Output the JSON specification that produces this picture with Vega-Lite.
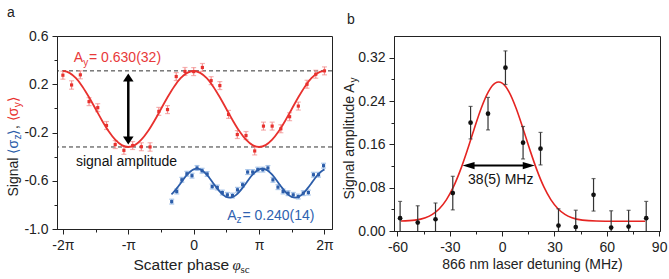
{
  "$schema": "https://vega.github.io/schema/vega-lite/v6.json",
  "padding": {"left": 5, "top": 5, "right": 5, "bottom": 5},
  "spacing": 62,
  "bounds": "flush",
  "config": {
    "font": "Liberation Sans",
    "view": {"stroke": "#222", "strokeWidth": 1},
    "axis": {"labelFontSize": 14, "titleFontSize": 14, "labelColor": "#222", "titleColor": "#222", "domainColor": "#222", "tickColor": "#222", "grid": false, "titleFontWeight": "normal", "labelFlush": false, "labelOverlap": false, "labelPadding": 4, "tickSize": 5},
    "title": {"fontSize": 14, "fontWeight": "normal", "font": "Liberation Sans", "color": "#222"}
  },
  "datasets": {
    "red": [
      {"x": -2.000, "y": 0.275, "e": 0.033}, {"x": -1.867, "y": 0.194, "e": 0.035}, {"x": -1.733, "y": 0.278, "e": 0.033},
      {"x": -1.600, "y": 0.056, "e": 0.033}, {"x": -1.467, "y": 0.006, "e": 0.033}, {"x": -1.333, "y": -0.142, "e": 0.033},
      {"x": -1.200, "y": -0.300, "e": 0.033}, {"x": -1.067, "y": -0.348, "e": 0.033}, {"x": -0.933, "y": -0.308, "e": 0.033},
      {"x": -0.800, "y": -0.318, "e": 0.033}, {"x": -0.667, "y": -0.320, "e": 0.035}, {"x": -0.533, "y": -0.025, "e": 0.033},
      {"x": -0.400, "y": -0.010, "e": 0.033}, {"x": -0.267, "y": 0.264, "e": 0.033}, {"x": -0.133, "y": 0.306, "e": 0.033},
      {"x": 0.000, "y": 0.305, "e": 0.033}, {"x": 0.133, "y": 0.339, "e": 0.033}, {"x": 0.267, "y": 0.230, "e": 0.033},
      {"x": 0.400, "y": 0.189, "e": 0.033}, {"x": 0.533, "y": -0.050, "e": 0.033}, {"x": 0.667, "y": -0.217, "e": 0.033},
      {"x": 0.800, "y": -0.225, "e": 0.033}, {"x": 0.933, "y": -0.353, "e": 0.033}, {"x": 1.067, "y": -0.147, "e": 0.033},
      {"x": 1.200, "y": -0.147, "e": 0.033}, {"x": 1.333, "y": -0.169, "e": 0.033}, {"x": 1.467, "y": -0.069, "e": 0.033},
      {"x": 1.600, "y": 0.019, "e": 0.033}, {"x": 1.733, "y": 0.200, "e": 0.033}, {"x": 1.867, "y": 0.283, "e": 0.033},
      {"x": 2.000, "y": 0.311, "e": 0.033}
    ],
    "blue": [
      {"x": -0.336, "y": -0.773, "e": 0.02}, {"x": -0.259, "y": -0.689, "e": 0.02}, {"x": -0.181, "y": -0.592, "e": 0.02},
      {"x": -0.104, "y": -0.542, "e": 0.02}, {"x": -0.026, "y": -0.558, "e": 0.02}, {"x": 0.051, "y": -0.494, "e": 0.02},
      {"x": 0.128, "y": -0.517, "e": 0.02}, {"x": 0.206, "y": -0.544, "e": 0.02}, {"x": 0.283, "y": -0.648, "e": 0.02},
      {"x": 0.361, "y": -0.656, "e": 0.02}, {"x": 0.438, "y": -0.698, "e": 0.02}, {"x": 0.515, "y": -0.717, "e": 0.02},
      {"x": 0.593, "y": -0.723, "e": 0.02}, {"x": 0.670, "y": -0.675, "e": 0.02}, {"x": 0.748, "y": -0.633, "e": 0.02},
      {"x": 0.825, "y": -0.528, "e": 0.02}, {"x": 0.902, "y": -0.528, "e": 0.02}, {"x": 0.980, "y": -0.508, "e": 0.02},
      {"x": 1.057, "y": -0.508, "e": 0.02}, {"x": 1.135, "y": -0.494, "e": 0.02}, {"x": 1.212, "y": -0.592, "e": 0.02},
      {"x": 1.289, "y": -0.653, "e": 0.02}, {"x": 1.367, "y": -0.689, "e": 0.02}, {"x": 1.444, "y": -0.703, "e": 0.02},
      {"x": 1.522, "y": -0.717, "e": 0.02}, {"x": 1.599, "y": -0.731, "e": 0.02}, {"x": 1.676, "y": -0.703, "e": 0.02},
      {"x": 1.754, "y": -0.698, "e": 0.02}, {"x": 1.831, "y": -0.550, "e": 0.02}, {"x": 1.909, "y": -0.550, "e": 0.02},
      {"x": 1.986, "y": -0.475, "e": 0.02}
    ],
    "redfit": [
      {"x": -2.0, "y": 0.310}, {"x": -1.9, "y": 0.2946}, {"x": -1.8, "y": 0.2498}, {"x": -1.7, "y": 0.1802}, {"x": -1.6, "y": 0.0923},
      {"x": -1.5, "y": -0.005}, {"x": -1.4, "y": -0.1023}, {"x": -1.3, "y": -0.1902}, {"x": -1.2, "y": -0.2598}, {"x": -1.1, "y": -0.3046},
      {"x": -1.0, "y": -0.320}, {"x": -0.9, "y": -0.3046}, {"x": -0.8, "y": -0.2598}, {"x": -0.7, "y": -0.1902}, {"x": -0.6, "y": -0.1023},
      {"x": -0.5, "y": -0.005}, {"x": -0.4, "y": 0.0923}, {"x": -0.3, "y": 0.1802}, {"x": -0.2, "y": 0.2498}, {"x": -0.1, "y": 0.2946},
      {"x": 0.0, "y": 0.310}, {"x": 0.1, "y": 0.2946}, {"x": 0.2, "y": 0.2498}, {"x": 0.3, "y": 0.1802}, {"x": 0.4, "y": 0.0923},
      {"x": 0.5, "y": -0.005}, {"x": 0.6, "y": -0.1023}, {"x": 0.7, "y": -0.1902}, {"x": 0.8, "y": -0.2598}, {"x": 0.9, "y": -0.3046},
      {"x": 1.0, "y": -0.320}, {"x": 1.1, "y": -0.3046}, {"x": 1.2, "y": -0.2598}, {"x": 1.3, "y": -0.1902}, {"x": 1.4, "y": -0.1023},
      {"x": 1.5, "y": -0.005}, {"x": 1.6, "y": 0.0923}, {"x": 1.7, "y": 0.1802}, {"x": 1.8, "y": 0.2498}, {"x": 1.9, "y": 0.2946},
      {"x": 2.0, "y": 0.310}
    ],
    "bluefit": [
      {"x": -0.34, "y": -0.7125}, {"x": -0.30, "y": -0.6905}, {"x": -0.25, "y": -0.6571}, {"x": -0.20, "y": -0.6200}, {"x": -0.15, "y": -0.5829},
      {"x": -0.10, "y": -0.5495}, {"x": -0.05, "y": -0.5229}, {"x": 0.00, "y": -0.5059}, {"x": 0.05, "y": -0.5000}, {"x": 0.10, "y": -0.5059},
      {"x": 0.15, "y": -0.5229}, {"x": 0.20, "y": -0.5495}, {"x": 0.25, "y": -0.5829}, {"x": 0.30, "y": -0.6200}, {"x": 0.35, "y": -0.6571},
      {"x": 0.40, "y": -0.6905}, {"x": 0.45, "y": -0.7171}, {"x": 0.50, "y": -0.7341}, {"x": 0.55, "y": -0.7400}, {"x": 0.60, "y": -0.7341},
      {"x": 0.65, "y": -0.7171}, {"x": 0.70, "y": -0.6905}, {"x": 0.75, "y": -0.6571}, {"x": 0.80, "y": -0.6200}, {"x": 0.85, "y": -0.5829},
      {"x": 0.90, "y": -0.5495}, {"x": 0.95, "y": -0.5229}, {"x": 1.00, "y": -0.5059}, {"x": 1.05, "y": -0.5000}, {"x": 1.10, "y": -0.5059},
      {"x": 1.15, "y": -0.5229}, {"x": 1.20, "y": -0.5495}, {"x": 1.25, "y": -0.5829}, {"x": 1.30, "y": -0.6200}, {"x": 1.35, "y": -0.6571},
      {"x": 1.40, "y": -0.6905}, {"x": 1.45, "y": -0.7171}, {"x": 1.50, "y": -0.7341}, {"x": 1.55, "y": -0.7400}, {"x": 1.60, "y": -0.7341},
      {"x": 1.65, "y": -0.7171}, {"x": 1.70, "y": -0.6905}, {"x": 1.75, "y": -0.6571}, {"x": 1.80, "y": -0.6200}, {"x": 1.85, "y": -0.5829},
      {"x": 1.90, "y": -0.5495}, {"x": 1.95, "y": -0.5229}, {"x": 2.00, "y": -0.5059}
    ],
    "dash": [{"y": 0.311}, {"y": -0.320}],
    "det": [
      {"x": -58.5, "y": 0.0236, "e": 0.031}, {"x": -48.4, "y": 0.0156, "e": 0.031}, {"x": -38.2, "y": 0.0217, "e": 0.030},
      {"x": -28.3, "y": 0.070, "e": 0.031}, {"x": -18.1, "y": 0.200, "e": 0.030}, {"x": -8.1, "y": 0.2166, "e": 0.030},
      {"x": 1.9, "y": 0.3015, "e": 0.031}, {"x": 12.0, "y": 0.163, "e": 0.030}, {"x": 22.0, "y": 0.152, "e": 0.030},
      {"x": 32.3, "y": 0.010, "e": 0.031}, {"x": 42.2, "y": 0.0074, "e": 0.031}, {"x": 52.4, "y": 0.0668, "e": 0.030},
      {"x": 62.5, "y": 0.0063, "e": 0.031}, {"x": 72.5, "y": 0.0082, "e": 0.030}, {"x": 82.6, "y": 0.0236, "e": 0.031}
    ],
    "detfit": [
      {"x": -58, "y": 0.0184}, {"x": -50, "y": 0.0201}, {"x": -44, "y": 0.0245}, {"x": -40, "y": 0.0307}, {"x": -36, "y": 0.0412},
      {"x": -32, "y": 0.0575}, {"x": -28, "y": 0.0809}, {"x": -24, "y": 0.1119}, {"x": -20, "y": 0.1489}, {"x": -16, "y": 0.1889},
      {"x": -12, "y": 0.2267}, {"x": -8, "y": 0.2564}, {"x": -4, "y": 0.2729}, {"x": -2, "y": 0.2750}, {"x": 0, "y": 0.2729},
      {"x": 2, "y": 0.2666}, {"x": 4, "y": 0.2564}, {"x": 8, "y": 0.2267}, {"x": 12, "y": 0.1889}, {"x": 16, "y": 0.1489},
      {"x": 20, "y": 0.1119}, {"x": 24, "y": 0.0809}, {"x": 28, "y": 0.0575}, {"x": 32, "y": 0.0412}, {"x": 36, "y": 0.0307},
      {"x": 40, "y": 0.0245}, {"x": 46, "y": 0.0201}, {"x": 54, "y": 0.0184}, {"x": 64, "y": 0.0180}, {"x": 82, "y": 0.0180}
    ]
  },
  "hconcat": [
    {
      "width": 275,
      "height": 193,
      "title": {"text": "a", "anchor": "start", "frame": "group", "dx": -50, "offset": -2, "baseline": "alphabetic"},
      "resolve": {"axis": {"x": "independent", "y": "independent"}},
      "layer": [
        {
          "data": {"name": "dash"},
          "mark": {"type": "rule", "strokeDash": [4, 3], "color": "#333", "strokeWidth": 1},
          "encoding": {
            "y": {"field": "y", "type": "quantitative", "scale": {"domain": [-1, 0.6]},
              "axis": {"orient": "left", "values": [0.6, 0.2, -0.2, -0.6, -1.0], "labelExpr": "replace(format(datum.value, '.1f'), '−', '-')",
                "title": "Signal", "titleAngle": -90, "titleAlign": "left", "titleBaseline": "alphabetic", "titleX": -40, "titleY": 160}}
          }
        },
        {
          "data": {"name": "red"},
          "mark": {"type": "errorbar", "color": "#f29191", "thickness": 1.2, "ticks": {"size": 5, "color": "#f29191"}},
          "encoding": {
            "x": {"field": "x", "type": "quantitative", "scale": {"domain": [-2.09, 2.115]},
              "axis": {"orient": "bottom", "values": [-2, -1, 0, 1, 2],
                "labelExpr": "datum.value == -2 ? '-2π' : datum.value == -1 ? '-π' : datum.value == 0 ? '0' : datum.value == 1 ? 'π' : '2π'",
                "title": "Scatter phase", "titleFontSize": 15.5, "titleAlign": "left", "titleBaseline": "alphabetic", "titleX": 76, "titleY": 40}},
            "y": {"field": "y", "type": "quantitative", "scale": {"domain": [-1, 0.6]},
              "axis": {"orient": "left", "values": [0.4, 0.0, -0.4, -0.8], "labels": false, "domain": false, "tickSize": 3, "title": null}},
            "yError": {"field": "e"}
          }
        },
        {
          "data": {"name": "red"},
          "mark": {"type": "point", "shape": "square", "filled": true, "size": 10, "color": "#e8312e", "opacity": 1},
          "encoding": {
            "x": {"field": "x", "type": "quantitative", "scale": {"domain": [-2.09, 2.115]},
              "axis": {"orient": "bottom", "values": [-1.5, -0.5, 0.5, 1.5], "labels": false, "domain": false, "tickSize": 3, "title": null}},
            "y": {"field": "y", "type": "quantitative", "scale": {"domain": [-1, 0.6]},
              "axis": {"orient": "left", "labels": false, "ticks": false, "domain": false, "title": "⟨σ", "titleColor": "#2c5da9",
                "titleAngle": -90, "titleAlign": "left", "titleBaseline": "alphabetic", "titleX": -40, "titleY": 117}}
          }
        },
        {
          "data": {"name": "redfit"},
          "mark": {"type": "line", "color": "#e8312e", "strokeWidth": 1.8, "interpolate": "monotone"},
          "encoding": {
            "x": {"field": "x", "type": "quantitative", "scale": {"domain": [-2.09, 2.115]},
              "axis": {"orient": "bottom", "labels": false, "ticks": false, "domain": false, "title": "φ", "titleFont": "Liberation Serif", "titleFontStyle": "italic", "titleFontSize": 15,
                "titleAlign": "left", "titleBaseline": "alphabetic", "titleX": 175, "titleY": 40}},
            "y": {"field": "y", "type": "quantitative", "scale": {"domain": [-1, 0.6]},
              "axis": {"orient": "left", "labels": false, "ticks": false, "domain": false, "title": "z", "titleColor": "#2c5da9", "titleFontSize": 10,
                "titleAngle": -90, "titleAlign": "left", "titleBaseline": "alphabetic", "titleX": -37, "titleY": 103}}
          }
        },
        {
          "data": {"name": "blue"},
          "mark": {"type": "errorbar", "color": "#86aee0", "thickness": 1.2, "ticks": {"size": 5, "color": "#86aee0"}},
          "encoding": {
            "x": {"field": "x", "type": "quantitative", "scale": {"domain": [-2.09, 2.115]},
              "axis": {"orient": "bottom", "labels": false, "ticks": false, "domain": false, "title": "sc", "titleFont": "Liberation Serif", "titleFontSize": 11,
                "titleAlign": "left", "titleBaseline": "alphabetic", "titleX": 183, "titleY": 43}},
            "y": {"field": "y", "type": "quantitative", "scale": {"domain": [-1, 0.6]},
              "axis": {"orient": "left", "labels": false, "ticks": false, "domain": false, "title": "⟩", "titleColor": "#2c5da9",
                "titleAngle": -90, "titleAlign": "left", "titleBaseline": "alphabetic", "titleX": -40, "titleY": 98}},
            "yError": {"field": "e"}
          }
        },
        {
          "data": {"name": "blue"},
          "mark": {"type": "point", "shape": "square", "filled": true, "size": 10, "color": "#2c5da9", "opacity": 1},
          "encoding": {
            "x": {"field": "x", "type": "quantitative", "scale": {"domain": [-2.09, 2.115]}, "axis": null},
            "y": {"field": "y", "type": "quantitative", "scale": {"domain": [-1, 0.6]},
              "axis": {"orient": "left", "labels": false, "ticks": false, "domain": false, "title": ",",
                "titleAngle": -90, "titleAlign": "left", "titleBaseline": "alphabetic", "titleX": -40, "titleY": 92.5}}
          }
        },
        {
          "data": {"name": "bluefit"},
          "mark": {"type": "line", "color": "#2c5da9", "strokeWidth": 1.8, "interpolate": "monotone"},
          "encoding": {
            "x": {"field": "x", "type": "quantitative", "scale": {"domain": [-2.09, 2.115]}, "axis": null},
            "y": {"field": "y", "type": "quantitative", "scale": {"domain": [-1, 0.6]},
              "axis": {"orient": "left", "labels": false, "ticks": false, "domain": false, "title": "⟨σ", "titleColor": "#e8312e",
                "titleAngle": -90, "titleAlign": "left", "titleBaseline": "alphabetic", "titleX": -40, "titleY": 84.7}}
          }
        },
        {
          "data": {"values": [{}]},
          "mark": {"type": "rule", "color": "#000", "strokeWidth": 2.5},
          "encoding": {
            "x": {"datum": -1.0, "type": "quantitative", "scale": {"domain": [-2.09, 2.115]}, "axis": null},
            "y": {"datum": 0.256, "type": "quantitative", "scale": {"domain": [-1, 0.6]},
              "axis": {"orient": "left", "labels": false, "ticks": false, "domain": false, "title": "y", "titleColor": "#e8312e", "titleFontSize": 10,
                "titleAngle": -90, "titleAlign": "left", "titleBaseline": "alphabetic", "titleX": -37, "titleY": 70.7}},
            "y2": {"datum": -0.267}
          }
        },
        {
          "data": {"values": [{}]},
          "mark": {"type": "point", "shape": "M0,-0.75L1,0.75L-1,0.75Z", "size": 112, "filled": true, "color": "#000", "opacity": 1},
          "encoding": {
            "x": {"datum": -1.0, "type": "quantitative", "scale": {"domain": [-2.09, 2.115]}, "axis": null},
            "y": {"datum": 0.256, "type": "quantitative", "scale": {"domain": [-1, 0.6]},
              "axis": {"orient": "left", "labels": false, "ticks": false, "domain": false, "title": "⟩", "titleColor": "#e8312e",
                "titleAngle": -90, "titleAlign": "left", "titleBaseline": "alphabetic", "titleX": -40, "titleY": 65.7}}
          }
        },
        {
          "data": {"values": [{}]},
          "mark": {"type": "point", "shape": "M0,0.75L1,-0.75L-1,-0.75Z", "size": 112, "filled": true, "color": "#000", "opacity": 1},
          "encoding": {
            "x": {"datum": -1.0, "type": "quantitative", "scale": {"domain": [-2.09, 2.115]}, "axis": null},
            "y": {"datum": -0.267, "type": "quantitative", "scale": {"domain": [-1, 0.6]}, "axis": null}
          }
        },
        {
          "data": {"values": [{}]},
          "mark": {"type": "text", "text": "A", "fontSize": 14, "color": "#e8393a", "align": "left", "baseline": "alphabetic"},
          "encoding": {
            "x": {"datum": -1.832, "type": "quantitative", "scale": {"domain": [-2.09, 2.115]}, "axis": null},
            "y": {"datum": 0.381, "type": "quantitative", "scale": {"domain": [-1, 0.6]}, "axis": null}
          }
        },
        {
          "data": {"values": [{}]},
          "mark": {"type": "text", "text": "y", "fontSize": 10, "color": "#e8393a", "align": "left", "baseline": "alphabetic"},
          "encoding": {
            "x": {"datum": -1.69, "type": "quantitative", "scale": {"domain": [-2.09, 2.115]}, "axis": null},
            "y": {"datum": 0.355, "type": "quantitative", "scale": {"domain": [-1, 0.6]}, "axis": null}
          }
        },
        {
          "data": {"values": [{}]},
          "mark": {"type": "text", "text": "= 0.630(32)", "fontSize": 14, "color": "#e8393a", "align": "left", "baseline": "alphabetic"},
          "encoding": {
            "x": {"datum": -1.60, "type": "quantitative", "scale": {"domain": [-2.09, 2.115]}, "axis": null},
            "y": {"datum": 0.381, "type": "quantitative", "scale": {"domain": [-1, 0.6]}, "axis": null}
          }
        },
        {
          "data": {"values": [{}]},
          "mark": {"type": "text", "text": "signal amplitude", "fontSize": 14, "color": "#111", "align": "left", "baseline": "alphabetic"},
          "encoding": {
            "x": {"datum": -1.80, "type": "quantitative", "scale": {"domain": [-2.09, 2.115]}, "axis": null},
            "y": {"datum": -0.475, "type": "quantitative", "scale": {"domain": [-1, 0.6]}, "axis": null}
          }
        },
        {
          "data": {"values": [{}]},
          "mark": {"type": "text", "text": "A", "fontSize": 14, "color": "#2f62b0", "align": "left", "baseline": "alphabetic"},
          "encoding": {
            "x": {"datum": 0.515, "type": "quantitative", "scale": {"domain": [-2.09, 2.115]}, "axis": null},
            "y": {"datum": -0.925, "type": "quantitative", "scale": {"domain": [-1, 0.6]}, "axis": null}
          }
        },
        {
          "data": {"values": [{}]},
          "mark": {"type": "text", "text": "z", "fontSize": 10, "color": "#2f62b0", "align": "left", "baseline": "alphabetic"},
          "encoding": {
            "x": {"datum": 0.655, "type": "quantitative", "scale": {"domain": [-2.09, 2.115]}, "axis": null},
            "y": {"datum": -0.948, "type": "quantitative", "scale": {"domain": [-1, 0.6]}, "axis": null}
          }
        },
        {
          "data": {"values": [{}]},
          "mark": {"type": "text", "text": "= 0.240(14)", "fontSize": 14, "color": "#2f62b0", "align": "left", "baseline": "alphabetic"},
          "encoding": {
            "x": {"datum": 0.745, "type": "quantitative", "scale": {"domain": [-2.09, 2.115]}, "axis": null},
            "y": {"datum": -0.925, "type": "quantitative", "scale": {"domain": [-1, 0.6]}, "axis": null}
          }
        }
      ]
    },
    {
      "width": 266,
      "height": 195,
      "title": {"text": "b", "anchor": "start", "frame": "group", "dx": -47, "offset": -2, "baseline": "alphabetic"},
      "resolve": {"axis": {"x": "independent", "y": "independent"}},
      "layer": [
        {
          "data": {"name": "detfit"},
          "mark": {"type": "line", "color": "#e52421", "strokeWidth": 1.6, "interpolate": "monotone"},
          "encoding": {
            "x": {"field": "x", "type": "quantitative", "scale": {"domain": [-62, 90.5]},
              "axis": {"orient": "bottom", "values": [-60, -30, 0, 30, 60, 90], "labelExpr": "datum.value < 0 ? '-' + abs(datum.value) : '' + datum.value",
                "title": "866 nm laser detuning (MHz)", "titleAlign": "center", "titleBaseline": "alphabetic", "titleX": 138, "titleY": 37}},
            "y": {"field": "y", "type": "quantitative", "scale": {"domain": [0, 0.36]},
              "axis": {"orient": "left", "values": [0, 0.08, 0.16, 0.24, 0.32], "format": ".2f",
                "title": "Signal amplitude A", "titleAngle": -90, "titleAlign": "left", "titleBaseline": "alphabetic", "titleX": -41, "titleY": 163}}
          }
        },
        {
          "data": {"name": "det"},
          "mark": {"type": "errorbar", "color": "#333", "thickness": 1.2, "clip": true, "ticks": {"size": 4, "color": "#333"}},
          "encoding": {
            "x": {"field": "x", "type": "quantitative", "scale": {"domain": [-62, 90.5]},
              "axis": {"orient": "bottom", "values": [-45, -15, 15, 45, 75], "labels": false, "domain": false, "tickSize": 3, "title": null}},
            "y": {"field": "y", "type": "quantitative", "scale": {"domain": [0, 0.36]},
              "axis": {"orient": "left", "values": [0.04, 0.12, 0.2, 0.28], "labels": false, "domain": false, "tickSize": 3, "title": null}},
            "yError": {"field": "e"}
          }
        },
        {
          "data": {"name": "det"},
          "mark": {"type": "circle", "size": 22, "color": "#111", "opacity": 1},
          "encoding": {
            "x": {"field": "x", "type": "quantitative", "scale": {"domain": [-62, 90.5]}, "axis": null},
            "y": {"field": "y", "type": "quantitative", "scale": {"domain": [0, 0.36]},
              "axis": {"orient": "left", "labels": false, "ticks": false, "domain": false, "title": "y", "titleFontSize": 10,
                "titleAngle": -90, "titleAlign": "left", "titleBaseline": "alphabetic", "titleX": -38, "titleY": 46}}
          }
        },
        {
          "data": {"values": [{}]},
          "mark": {"type": "rule", "color": "#000", "strokeWidth": 2},
          "encoding": {
            "x": {"datum": -19.3, "type": "quantitative", "scale": {"domain": [-62, 90.5]}, "axis": null},
            "x2": {"datum": 15.3},
            "y": {"datum": 0.1207, "type": "quantitative", "scale": {"domain": [0, 0.36]}, "axis": null}
          }
        },
        {
          "data": {"values": [{}]},
          "mark": {"type": "point", "shape": "M-1,0L1,-0.6L1,0.6Z", "size": 144, "filled": true, "color": "#000", "opacity": 1},
          "encoding": {
            "x": {"datum": -19.26, "type": "quantitative", "scale": {"domain": [-62, 90.5]}, "axis": null},
            "y": {"datum": 0.1207, "type": "quantitative", "scale": {"domain": [0, 0.36]}, "axis": null}
          }
        },
        {
          "data": {"values": [{}]},
          "mark": {"type": "point", "shape": "M1,0L-1,-0.6L-1,0.6Z", "size": 144, "filled": true, "color": "#000", "opacity": 1},
          "encoding": {
            "x": {"datum": 15.26, "type": "quantitative", "scale": {"domain": [-62, 90.5]}, "axis": null},
            "y": {"datum": 0.1207, "type": "quantitative", "scale": {"domain": [0, 0.36]}, "axis": null}
          }
        },
        {
          "data": {"values": [{}]},
          "mark": {"type": "text", "text": "38(5) MHz", "fontSize": 14, "color": "#111", "align": "center", "baseline": "alphabetic"},
          "encoding": {
            "x": {"datum": -0.8, "type": "quantitative", "scale": {"domain": [-62, 90.5]}, "axis": null},
            "y": {"datum": 0.0867, "type": "quantitative", "scale": {"domain": [0, 0.36]}, "axis": null}
          }
        }
      ]
    }
  ]
}
